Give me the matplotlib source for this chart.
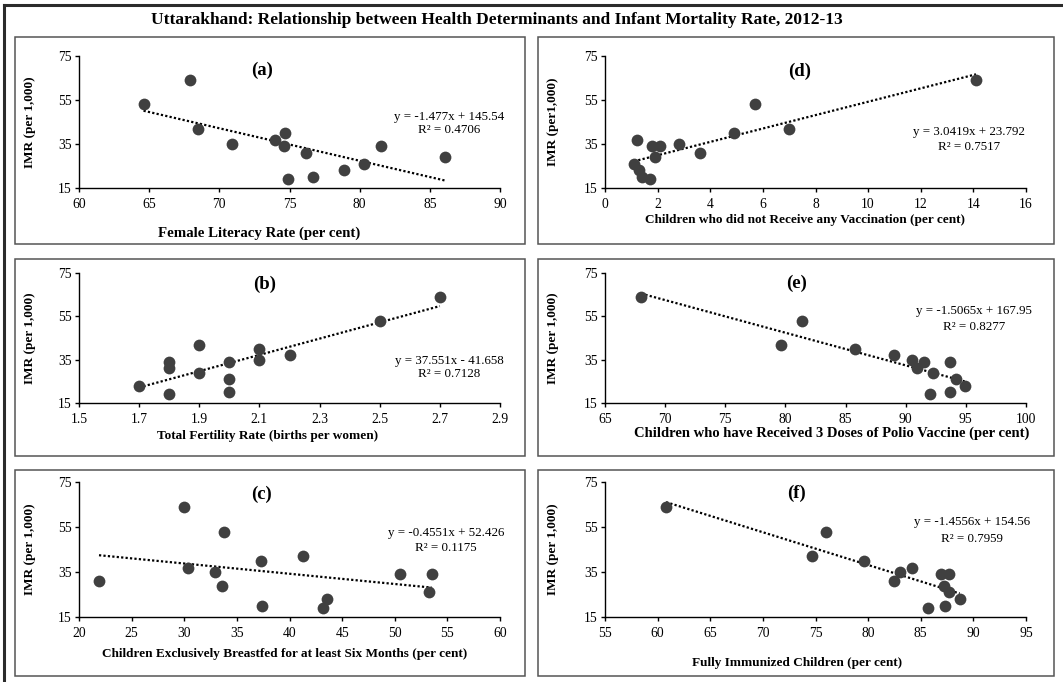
import numpy as np
import matplotlib
matplotlib.use("Agg")
import matplotlib.pyplot as plt
from matplotlib.patches import Rectangle
from matplotlib.lines import Line2D

plt.rcParams['font.family'] = ['Liberation Serif', 'DejaVu Serif']

# ---- data ----
female_literacy = [64.6, 67.9, 68.5, 70.9, 74.0, 74.7, 74.6, 74.9, 76.2, 76.7, 78.9, 80.3, 81.5, 86.1]
imr_a = [53, 64, 42, 35, 37, 40, 34, 19, 31, 20, 23, 26, 34, 29]

fertility_rate = [1.7, 1.8, 1.8, 1.8, 1.9, 1.9, 2.0, 2.0, 2.0, 2.1, 2.1, 2.2, 2.5, 2.7]
imr_b = [23, 34, 31, 19, 42, 29, 34, 26, 20, 40, 35, 37, 53, 64]

breastfed = [30.0, 33.8, 41.3, 37.3, 30.4, 32.9, 21.9, 50.5, 53.5, 33.6, 53.3, 43.6, 37.4, 43.2]
imr_c = [64, 53, 42, 40, 37, 35, 31, 34, 34, 29, 26, 23, 20, 19]

no_vaccination = [14.1, 5.7, 7.0, 4.9, 1.2, 2.8, 1.8, 2.1, 3.6, 1.9, 1.1, 1.3, 1.4, 1.7]
imr_d = [64, 53, 42, 40, 37, 35, 34, 34, 31, 29, 26, 23, 20, 19]

polio_3doses = [68.0, 81.4, 79.6, 85.8, 89.0, 90.5, 91.5, 93.7, 90.9, 92.3, 94.2, 94.9, 92.0, 93.7]
imr_e = [64, 53, 42, 40, 37, 35, 34, 34, 31, 29, 26, 23, 19, 20]

fully_immunized = [60.8, 76.0, 74.7, 79.6, 84.2, 83.0, 86.9, 87.7, 82.5, 87.2, 87.7, 88.7, 87.3, 85.7]
imr_f = [64, 53, 42, 40, 37, 35, 34, 34, 31, 29, 26, 23, 20, 19]

# trendline coefficients as printed on the chart
slopes = [-1.477, 37.551, -0.4551, 3.0419, -1.5065, -1.4556]
intercepts = [145.54, -41.658, 52.426, 23.792, 167.95, 154.56]
equations = ["y = -1.477x + 145.54", "y = 37.551x - 41.658", "y = -0.4551x + 52.426",
             "y = 3.0419x + 23.792", "y = -1.5065x + 167.95", "y = -1.4556x + 154.56"]
r_squared = ["0.4706", "0.7128", "0.1175", "0.7517", "0.8277", "0.7959"]

panel_tags = ["(a)", "(b)", "(c)", "(d)", "(e)", "(f)"]
x_titles = ["Female Literacy Rate (per cent)",
            "Total Fertility Rate (births per women)",
            "Children Exclusively Breastfed for at least Six Months (per cent)",
            "Children who did not Receive any Vaccination (per cent)",
            "Children who have Received 3 Doses of Polio Vaccine (per cent)",
            "Fully Immunized Children (per cent)"]
y_titles = ["IMR (per 1,000)"] * 3 + ["IMR (per1,000)"] + ["IMR (per 1,000)"] * 2
x_ticks = [np.arange(60, 91, 5), np.round(np.arange(1.5, 2.91, 0.2), 1), np.arange(20, 61, 5),
           np.arange(0, 17, 2), np.arange(65, 101, 5), np.arange(55, 96, 5)]
y_ticks = [15, 35, 55, 75]

xs = [female_literacy, fertility_rate, breastfed, no_vaccination, polio_3doses, fully_immunized]
ys = [imr_a, imr_b, imr_c, imr_d, imr_e, imr_f]

# ---- layout, in pixels of the 1063x682 picture ----
W, H = 1063, 682
fig = plt.figure(figsize=(W / 100, H / 100), dpi=100)


def fx(x):
    return x / W


def fy(y):
    return 1 - y / H


col_axes = [(79, 500), (605, 1026)]
row_axes = [(56, 188), (273, 403), (482, 617)]
col_box = [(15, 525), (538, 1054)]
row_box = [(37, 244), (259, 456), (470, 676)]
tag_pos = [(262, 70), (265, 284), (262, 494), (800, 71), (797, 283), (797, 493)]
eq_pos = [(449, 117, 130), (449, 361, 374), (446, 533, 548),
          (969, 132, 147), (974, 311, 327), (972, 522, 539)]
xlab_pos = [(259, 233), (268, 436), (285, 654), (805, 220), (832, 433), (797, 663)]
xlab_size = [10.75, 9.5, 9.5, 9.5, 10.5, 9.5]
ylab_x = [30, 553]

# outer frame (only left and top sides fall inside the picture)
fig.add_artist(Line2D([fx(4), fx(4)], [fy(5), fy(H + 5)], color='#2b2b2b', lw=2.2))
fig.add_artist(Line2D([fx(4), fx(W + 5)], [fy(5), fy(5)], color='#2b2b2b', lw=2.2))

fig.text(fx(497), fy(20), "Uttarakhand: Relationship between Health Determinants and Infant Mortality Rate, 2012-13",
         ha='center', va='center', fontsize=12.5, fontweight='bold')

for i in range(6):
    c, r = i // 3, i % 3
    bx0, bx1 = col_box[c]
    by0, by1 = row_box[r]
    fig.add_artist(Rectangle((fx(bx0), fy(by1)), fx(bx1 - bx0), (by1 - by0) / H,
                             fill=False, edgecolor='#555555', lw=1.1))

    ax0, ax1 = col_axes[c]
    ay0, ay1 = row_axes[r]
    ax = fig.add_axes([fx(ax0), fy(ay1), fx(ax1 - ax0), (ay1 - ay0) / H])
    ax.patch.set_alpha(0)

    x = np.array(xs[i])
    y = np.array(ys[i])
    ax.scatter(x, y, s=72, color='#404040', zorder=3, clip_on=False, linewidths=0)
    xl = np.array([x.min(), x.max()])
    ax.plot(xl, slopes[i] * xl + intercepts[i], color='black', lw=1.6,
            linestyle=(0, (1, 1)), zorder=2)

    ax.set_xlim(x_ticks[i][0], x_ticks[i][-1])
    ax.set_ylim(15, 75)
    ax.set_xticks(x_ticks[i])
    if i == 1:
        ax.set_xticklabels([f"{t:.1f}" for t in x_ticks[i]])
    ax.set_yticks(y_ticks)
    for s in ['top', 'right']:
        ax.spines[s].set_visible(False)
    for s in ['left', 'bottom']:
        ax.spines[s].set_linewidth(1.0)
    ax.tick_params(direction='out', length=3, width=1.0, labelsize=9.8)
    ax.tick_params(axis='x', pad=4)
    ax.tick_params(axis='y', pad=2)

    tx, ty = tag_pos[i]
    fig.text(fx(tx), fy(ty), panel_tags[i], ha='center', va='center', fontsize=13.5, fontweight='bold')
    ex, ey1, ey2 = eq_pos[i]
    fig.text(fx(ex), fy(ey1), equations[i], ha='center', va='center', fontsize=9.4)
    fig.text(fx(ex), fy(ey2), "R² = " + r_squared[i], ha='center', va='center', fontsize=9.4)
    lx, ly = xlab_pos[i]
    fig.text(fx(lx), fy(ly), x_titles[i], ha='center', va='center', fontsize=xlab_size[i], fontweight='bold')
    fig.text(fx(ylab_x[c]), fy((ay0 + ay1) / 2), y_titles[i], ha='center', va='center',
             rotation=90, fontsize=9.5, fontweight='bold')

fig.savefig("out.png", dpi=100)
